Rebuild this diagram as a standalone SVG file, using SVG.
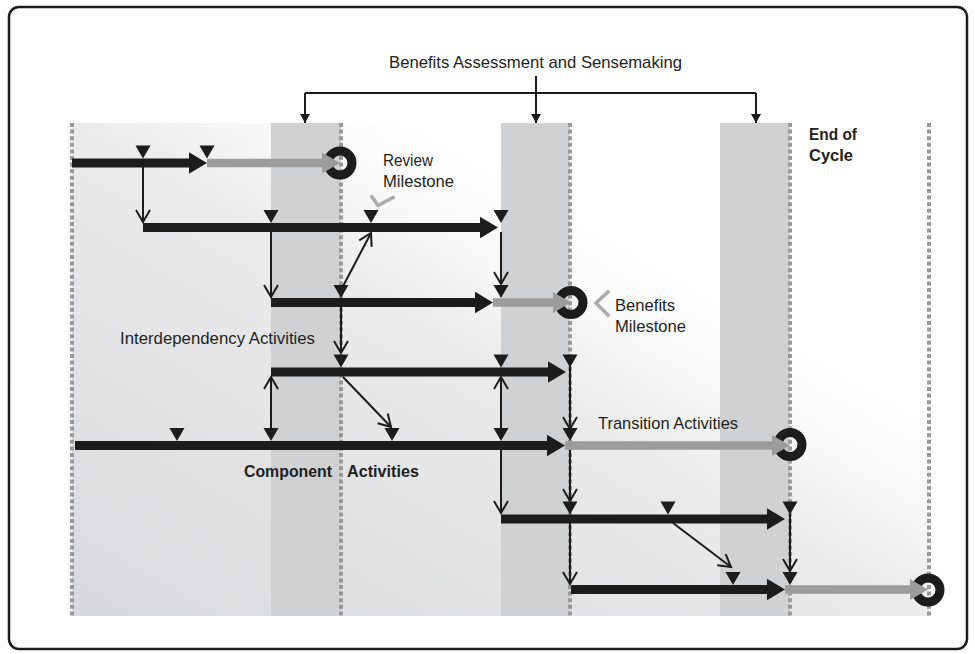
<svg xmlns="http://www.w3.org/2000/svg" xmlns:xlink="http://www.w3.org/1999/xlink" width="975" height="654" viewBox="0 0 975 654">
<style>
.bar{fill:#1c1c1c}
.gbar{fill:#9c9c9c}
.ring{fill:none;stroke:#1c1c1c;stroke-width:9}
.dash{stroke:#999999;stroke-width:4;stroke-dasharray:4 2.6;fill:none}
.band{fill:#d0d1d3}
.conn{stroke:#1c1c1c;stroke-width:2;fill:none}
.chev{stroke:#aaaaaa;stroke-width:3.5;fill:none;stroke-linecap:square}
.lbl{font-family:"Liberation Sans",Arial,sans-serif;font-size:17px;fill:#231f20}
.blbl{font-family:"Liberation Sans",Arial,sans-serif;font-size:17px;font-weight:bold;fill:#231f20}
</style>
<defs>
<linearGradient id="bg" x1="0" y1="1" x2="1" y2="0">
<stop offset="0" stop-color="#d8d9dc"/>
<stop offset="0.5" stop-color="#ebebec"/>
<stop offset="0.6" stop-color="#f8f8f8"/>
<stop offset="0.7" stop-color="#ffffff"/>
</linearGradient>
<path id="tri" d="M-7.5,-13 L7.5,-13 L0,0 Z" fill="#1c1c1c"/>
<marker id="open" markerUnits="userSpaceOnUse" viewBox="-16 -10 20 20" markerWidth="20" markerHeight="20" refX="0" refY="0" orient="auto" overflow="visible">
<path d="M-12,-7 L0,0 L-12,7" fill="none" stroke="#1c1c1c" stroke-width="2"/>
</marker>
<marker id="fill" markerUnits="userSpaceOnUse" viewBox="-12 -8 14 16" markerWidth="14" markerHeight="16" refX="0" refY="0" orient="auto" overflow="visible">
<path d="M-9,-5 L0,0 L-9,5 Z" fill="#1c1c1c"/>
</marker>
</defs>
<rect x="9" y="7" width="958" height="642" rx="10" fill="#ffffff" stroke="#1c1c1c" stroke-width="2.5"/>
<g id="background">
<rect x="72" y="123" width="857" height="493" fill="url(#bg)"/>
<rect class="band" x="271" y="123" width="70" height="493"/>
<rect class="band" x="501" y="123" width="69" height="493"/>
<rect class="band" x="720" y="123" width="70" height="493"/>
<line class="dash" x1="72" y1="123" x2="72" y2="616"/>
<line class="dash" x1="341" y1="123" x2="341" y2="616"/>
<line class="dash" x1="570" y1="123" x2="570" y2="616"/>
<line class="dash" x1="790" y1="123" x2="790" y2="616"/>
<line class="dash" x1="929" y1="123" x2="929" y2="616"/>
</g>
<g id="connectors">
<path class="conn" d="M305,93 H756"/>
<line class="conn" x1="305" y1="93" x2="305" y2="123" marker-end="url(#fill)"/>
<line class="conn" x1="536" y1="76" x2="536" y2="123" marker-end="url(#fill)"/>
<line class="conn" x1="756" y1="93" x2="756" y2="123" marker-end="url(#fill)"/>
<line class="conn" x1="143" y1="167" x2="143" y2="222" marker-end="url(#open)"/>
<line class="conn" x1="271" y1="232" x2="271" y2="297" marker-end="url(#open)"/>
<line class="conn" x1="341" y1="290" x2="371" y2="233" marker-end="url(#open)"/>
<line class="conn" x1="501" y1="232" x2="501" y2="284" marker-end="url(#open)"/>
<line class="conn" x1="341" y1="307" x2="341" y2="353" marker-end="url(#open)"/>
<line class="conn" x1="271" y1="438" x2="271" y2="377" marker-end="url(#open)"/>
<line class="conn" x1="343" y1="377" x2="391" y2="427" marker-end="url(#open)"/>
<line class="conn" x1="501" y1="438" x2="501" y2="377" marker-end="url(#open)"/>
<line class="conn" x1="570" y1="366" x2="570" y2="429" marker-end="url(#open)"/>
<line class="conn" x1="501" y1="450" x2="501" y2="513" marker-end="url(#open)"/>
<line class="conn" x1="570" y1="450" x2="570" y2="501" marker-end="url(#open)"/>
<line class="conn" x1="570" y1="523" x2="570" y2="584" marker-end="url(#open)"/>
<line class="conn" x1="673" y1="523" x2="731" y2="567" marker-end="url(#open)"/>
<line class="conn" x1="790" y1="514" x2="790" y2="571" marker-end="url(#open)"/>
<polyline class="chev" points="372,197 378,205.5 393,197.5"/>
<polyline class="chev" points="608,292 596,303 608,315"/>
</g>
<g id="milestone-review"><circle class="ring" cx="340" cy="163" r="12"/></g>
<g id="milestone-benefits"><circle class="ring" cx="571" cy="302.5" r="12"/></g>
<g id="milestone-transition"><circle class="ring" cx="790" cy="444.5" r="12"/></g>
<g id="milestone-end"><circle class="ring" cx="928" cy="590" r="12"/></g>
<g id="row1">
<path class="bar" d="M72,158.5 H189 V152.2 L207,163 L189,173.8 V167.5 H72 Z"/>
<path class="gbar" d="M207,158.8 H322 V152.5 L340,163 L322,173.5 V167.2 H207 Z"/>
<use href="#tri" x="143" y="158.5"/><use href="#tri" x="207" y="158.5"/>
</g>
<g id="row2">
<path class="bar" d="M143,223 H480 V216.7 L498,227.5 L480,238.3 V232 H143 Z"/>
<use href="#tri" x="271" y="223"/><use href="#tri" x="371" y="223"/><use href="#tri" x="501" y="223"/>
</g>
<g id="row3">
<path class="bar" d="M271,298 H475 V291.7 L493,302.5 L475,313.3 V307 H271 Z"/>
<path class="gbar" d="M493,298.3 H553 V292 L571,302.5 L553,313 V306.7 H493 Z"/>
<use href="#tri" x="341" y="298"/><use href="#tri" x="501" y="298"/>
</g>
<g id="row4">
<path class="bar" d="M271,367.5 H548 V361.2 L566,372 L548,382.8 V376.5 H271 Z"/>
<use href="#tri" x="341" y="367.5"/><use href="#tri" x="501" y="367.5"/><use href="#tri" x="570" y="367.5"/>
</g>
<g id="row5">
<path class="bar" d="M75,441 H547 V434.7 L565,445.5 L547,456.3 V450 H75 Z"/>
<path class="gbar" d="M565,441.3 H772 V435 L790,445.5 L772,456 V449.7 H565 Z"/>
<use href="#tri" x="177" y="441"/><use href="#tri" x="271" y="441"/><use href="#tri" x="392" y="441"/><use href="#tri" x="501" y="441"/><use href="#tri" x="570" y="441"/>
</g>
<g id="row6">
<path class="bar" d="M501,514.5 H767 V508.2 L785,519 L767,529.8 V523.5 H501 Z"/>
<use href="#tri" x="570" y="514.5"/><use href="#tri" x="668" y="514.5"/><use href="#tri" x="790" y="514.5"/>
</g>
<g id="row7">
<path class="bar" d="M571,585 H767 V578.7 L785,589.5 L767,600.3 V594 H571 Z"/>
<path class="gbar" d="M785,585.3 H910 V579 L928,589.5 L910,600 V593.7 H785 Z"/>
<use href="#tri" x="733" y="585"/><use href="#tri" x="790" y="585"/>
</g>
<g id="label-assessment"><text class="lbl" x="389" y="68" textLength="293" lengthAdjust="spacingAndGlyphs">Benefits Assessment and Sensemaking</text></g>
<g id="label-review"><text class="lbl" x="383" y="166" textLength="50" lengthAdjust="spacingAndGlyphs">Review</text><text class="lbl" x="383" y="187" textLength="71" lengthAdjust="spacingAndGlyphs">Milestone</text></g>
<g id="label-benefits"><text class="lbl" x="615" y="311" textLength="60" lengthAdjust="spacingAndGlyphs">Benefits</text><text class="lbl" x="615" y="332" textLength="71" lengthAdjust="spacingAndGlyphs">Milestone</text></g>
<g id="label-interdependency"><text class="lbl" x="120" y="343.5" textLength="195" lengthAdjust="spacingAndGlyphs">Interdependency Activities</text></g>
<g id="label-transition"><text class="lbl" x="598" y="428.5" textLength="140" lengthAdjust="spacingAndGlyphs">Transition Activities</text></g>
<g id="label-component"><text class="blbl" x="244" y="476.5" textLength="88" lengthAdjust="spacingAndGlyphs">Component</text><text class="blbl" x="347" y="476.5" textLength="72" lengthAdjust="spacingAndGlyphs">Activities</text></g>
<g id="label-end"><text class="blbl" x="809" y="140" textLength="48" lengthAdjust="spacingAndGlyphs">End of</text><text class="blbl" x="809" y="161" textLength="44" lengthAdjust="spacingAndGlyphs">Cycle</text></g>
</svg>
